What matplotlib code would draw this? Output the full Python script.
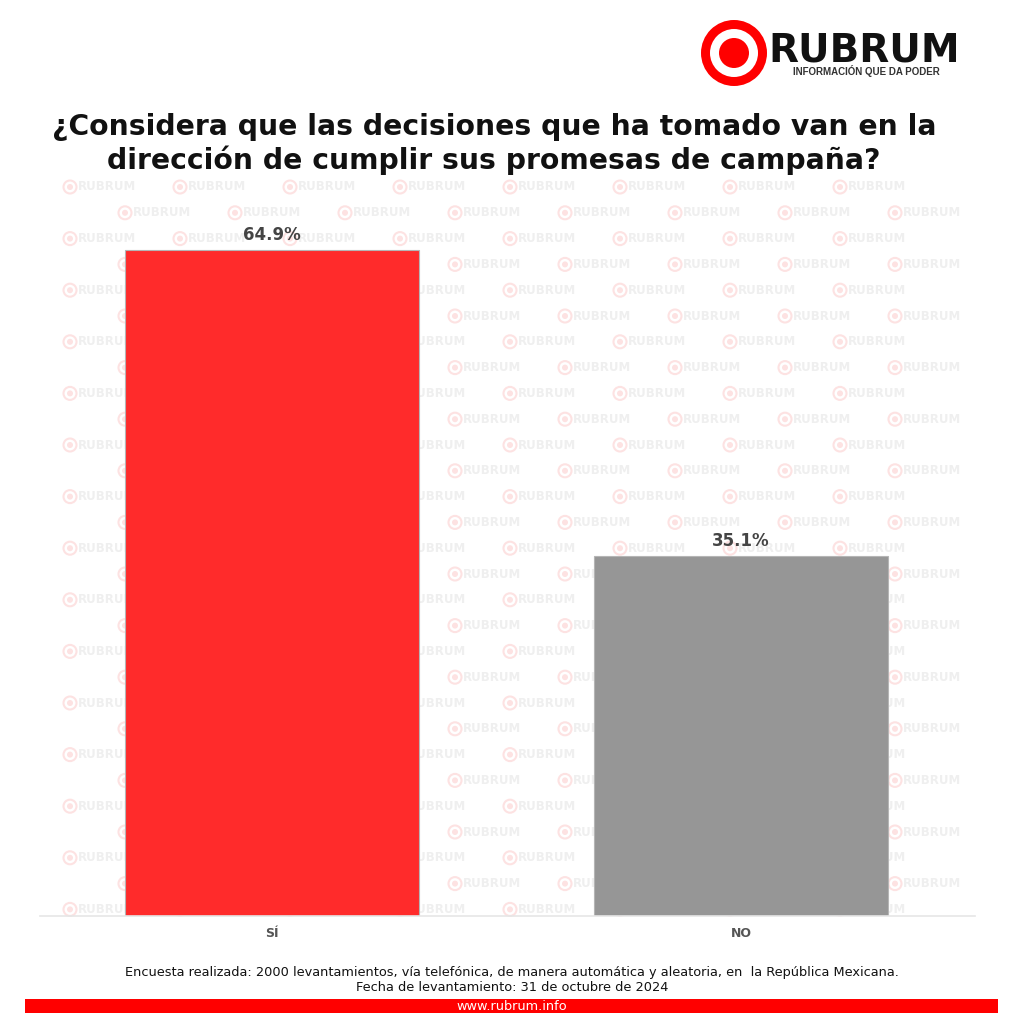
import numpy as np
import matplotlib.pyplot as plt
import matplotlib.patches as mpatches

# data
categories = ['SÍ', 'NO']
values = [64.9, 35.1]
bar_colors = ['#ff2b2b', '#969696']
value_labels = ['64.9%', '35.1%']

title = '¿Considera que las decisiones que ha tomado van en la\ndirección de cumplir sus promesas de campaña?'
note1 = 'Encuesta realizada: 2000 levantamientos, vía telefónica, de manera automática y aleatoria, en  la República Mexicana.'
note2 = 'Fecha de levantamiento: 31 de octubre de 2024'
site = 'www.rubrum.info'

W, H = 1024, 1021
fig = plt.figure(figsize=(W/100, H/100), dpi=100)
fig.patch.set_facecolor('white')

# background layer in pixel coords
bg = fig.add_axes([0, 0, 1, 1])
bg.set_xlim(0, W)
bg.set_ylim(H, 0)
bg.axis('off')

# watermark tiles
for i, y in enumerate(np.arange(187, 930, 25.8)):
    x0 = 70 + (55 if i % 2 else 0)
    for x in np.arange(x0, 915, 110):
        bg.add_patch(mpatches.Circle((x, y), 6.5, fc='none', ec='#fde2e2', lw=1.5, zorder=0))
        bg.add_patch(mpatches.Circle((x, y), 3.0, fc='#fde2e2', ec='none', zorder=0))
        bg.text(x + 8, y, 'RUBRUM', fontsize=8.5, fontweight='bold', color='#efefef',
                ha='left', va='center', zorder=0)

# logo
bg.add_patch(mpatches.Circle((734, 53), 33, fc='#ff0000', ec='none'))
bg.add_patch(mpatches.Circle((734, 53), 24, fc='white', ec='none'))
bg.add_patch(mpatches.Circle((734, 53), 15, fc='#ff0000', ec='none'))
bg.text(768, 62, 'RUBRUM', fontsize=28, fontweight='bold', color='#111111',
        ha='left', va='baseline')
bg.text(866, 71, 'INFORMACIÓN QUE DA PODER', fontsize=7, fontweight='bold', color='#333333',
        ha='center', va='center', family='Liberation Sans')

# title
bg.text(494, 144, title, fontsize=20.3, fontweight='bold', color='#111111',
        ha='center', va='center', linespacing=1.2)

# footer
bg.text(512, 972, note1, fontsize=9.3, color='#111111', ha='center', va='center')
bg.text(512, 987, note2, fontsize=9.3, color='#111111', ha='center', va='center')
bg.add_patch(mpatches.Rectangle((25, 999), 973, 14, fc='#ff0000', ec='none'))
bg.text(512, 1006.5, site, fontsize=9.3, color='white', ha='center', va='center')

# chart
ax = fig.add_axes([40/W, 105/H, 935/W, 736/H])
ax.patch.set_alpha(0)
x = np.arange(len(categories))
ax.bar(x, values, width=0.627, color=bar_colors, edgecolor='#b5b5b5', linewidth=0.8, zorder=2)
for xi, v, lab in zip(x, values, value_labels):
    ax.text(xi, v + 0.6, lab, ha='center', va='bottom', fontsize=12, fontweight='bold',
            color='#444444')
ax.set_xlim(-0.4947, 1.499)
ax.set_ylim(0, 71.7)
ax.set_xticks(x)
ax.set_xticklabels(categories, fontsize=9, fontweight='bold', color='#555555')
ax.tick_params(axis='x', length=0, pad=8)
ax.set_yticks([])
for s in ['top', 'right', 'left']:
    ax.spines[s].set_visible(False)
ax.spines['bottom'].set_color('#e6e6e6')
ax.spines['bottom'].set_linewidth(1.2)

fig.savefig('out.png', dpi=100, facecolor='white')
